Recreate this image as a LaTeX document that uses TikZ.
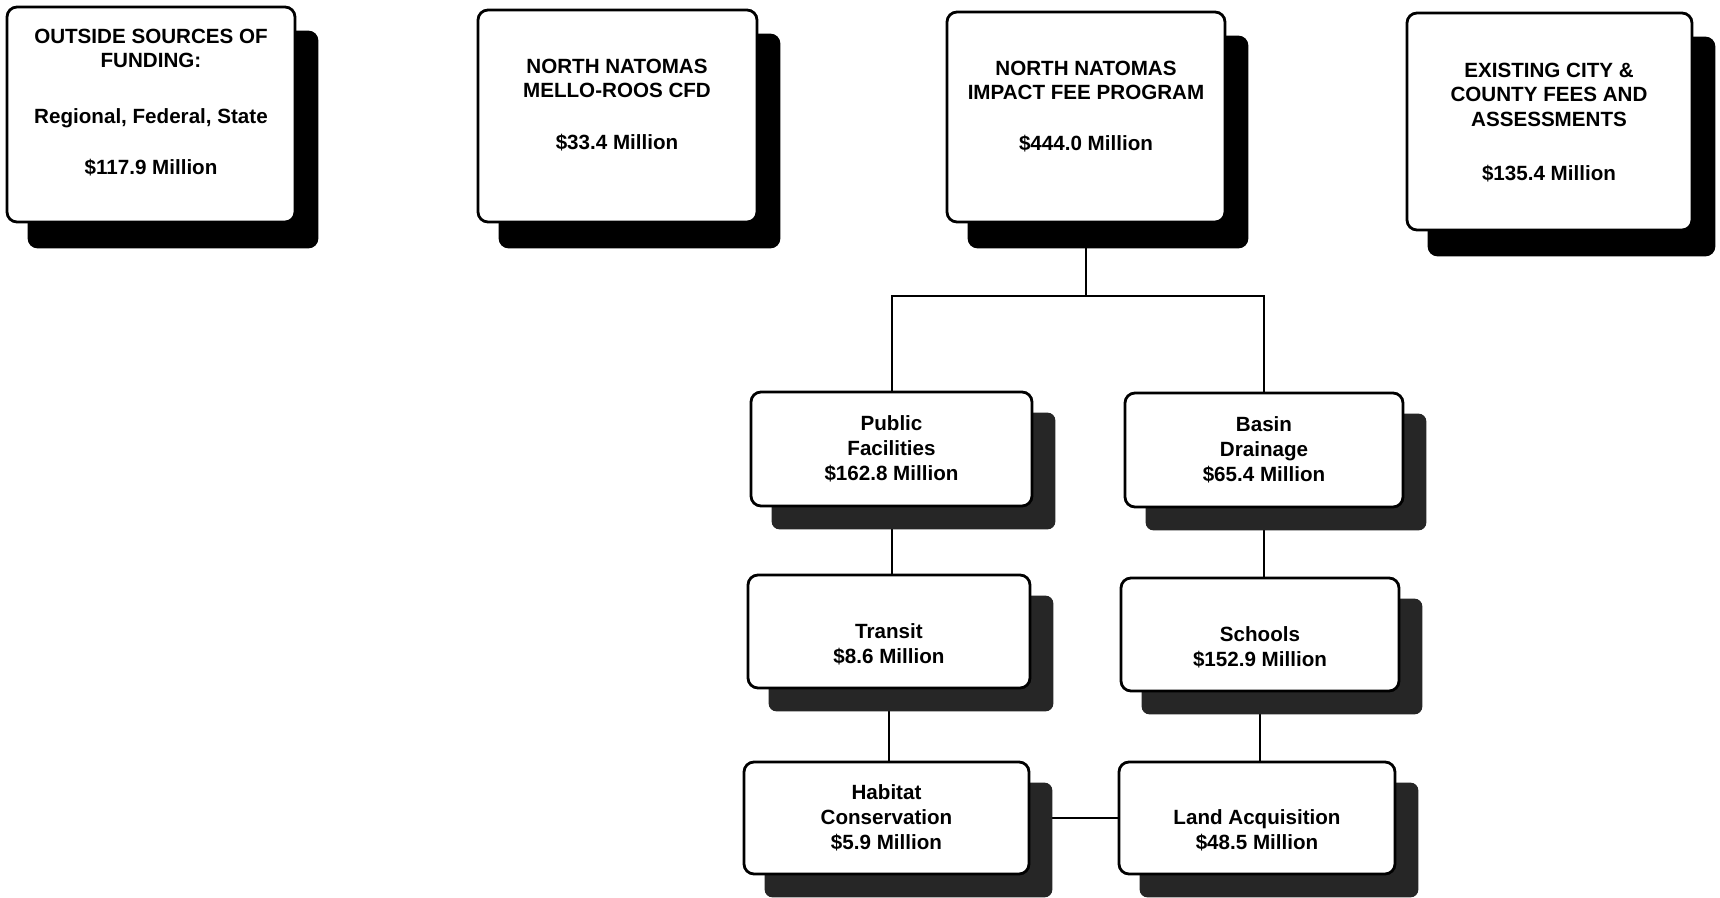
\documentclass[tikz,border=0pt]{standalone}
\usepackage{fontspec}
\setmainfont{Liberation Sans}
\usetikzlibrary{calc}
\pgfdeclarelayer{lines}
\pgfdeclarelayer{shad}
\pgfsetlayers{lines,shad,main}
\begin{document}
\begin{tikzpicture}[x=0.5pt,y=-0.5pt,
  box/.style={draw=black, line width=1.4pt, fill=white, rounded corners=5pt, inner sep=0pt},
  txt/.style={align=center, inner sep=0pt, font=\fontsize{10.3}{12}\selectfont\bfseries},
  ltxt/.style={align=center, inner sep=0pt, font=\fontsize{10.3}{12.5}\selectfont\bfseries},
  sh/.style={fill=black, rounded corners=5pt},
  shs/.style={fill=black!85, rounded corners=4pt},
  conn/.style={line width=1pt}]
\useasboundingbox (0,0) rectangle (1720,898);
% top boxes
\node[box, minimum width=144pt, minimum height=107.5pt] (b1) at (151,114.5) {};
\node[box, minimum width=139.5pt, minimum height=106pt] (b2) at (617.5,116) {};
\node[box, minimum width=139pt, minimum height=105pt] (b3) at (1086,117) {};
\node[box, minimum width=142.5pt, minimum height=108.5pt] (b4) at (1549.5,121.5) {};
\node[txt, anchor=north] (t1) at (151,29) {OUTSIDE SOURCES OF\\FUNDING:\\[16pt]Regional, Federal, State\\[13.5pt]\$117.9 Million};
\node[txt, anchor=north] (t2) at (617,59) {NORTH NATOMAS\\MELLO-ROOS CFD\\[14pt]\$33.4 Million};
\node[txt, anchor=north] (t3) at (1086,61) {NORTH NATOMAS\\IMPACT FEE PROGRAM\\[13.5pt]\$444.0 Million};
\node[txt, anchor=north] (t4) at (1549,63) {EXISTING CITY \&\\COUNTY FEES AND\\[0.5pt]ASSESSMENTS\\[15pt]\$135.4 Million};
% lower boxes
\node[box, minimum width=140.5pt, minimum height=57pt] (pf) at (891.5,449) {};
\node[box, minimum width=139pt, minimum height=57pt] (bd) at (1264,450) {};
\node[box, minimum width=141pt, minimum height=56.5pt] (tr) at (889,631.5) {};
\node[box, minimum width=139pt, minimum height=56.5pt] (sc) at (1260,634.5) {};
\node[box, minimum width=142.5pt, minimum height=56pt] (hc) at (886.5,818) {};
\node[box, minimum width=138pt, minimum height=56pt] (la) at (1257,818) {};
\node[ltxt] (pft) at (pf.center) {Public\\Facilities\\\$162.8 Million};
\node[ltxt] (bdt) at (bd.center) {Basin\\Drainage\\\$65.4 Million};
\node[ltxt] (trt) at ([yshift=-6.25pt]tr.center) {Transit\\\$8.6 Million};
\node[ltxt] (sct) at ([yshift=-6.25pt]sc.center) {Schools\\\$152.9 Million};
\node[ltxt] (hct) at (hc.center) {Habitat\\Conservation\\\$5.9 Million};
\node[ltxt] (lat) at ([yshift=-6.25pt]la.center) {Land Acquisition\\\$48.5 Million};
% shadows
\begin{pgfonlayer}{shad}
\foreach \b in {b1,b2,b3,b4}{
  \fill[sh] ($(\b.north west)+(22,25)$) rectangle ($(\b.south east)+(22,25)$);
}
\foreach \b in {pf,bd,tr,sc,hc,la}{
  \fill[shs] ($(\b.north west)+(22,22)$) rectangle ($(\b.south east)+(22,22)$);
}
\end{pgfonlayer}
% connectors
\begin{pgfonlayer}{lines}
\draw[conn] (b3.south) -- (b3.south |- 0,296) coordinate (j);
\draw[conn] (j) -| (pf.north);
\draw[conn] (j) -| (bd.north);
\draw[conn] (pf.south) -- (pf.south |- tr.north);
\draw[conn] (bd.south) -- (bd.south |- sc.north);
\draw[conn] (tr.south) -- (tr.south |- hc.north);
\draw[conn] (sc.south) -- (sc.south |- la.north);
\draw[conn] (hc.east) -- (la.west);
\end{pgfonlayer}
\end{tikzpicture}
\end{document}
